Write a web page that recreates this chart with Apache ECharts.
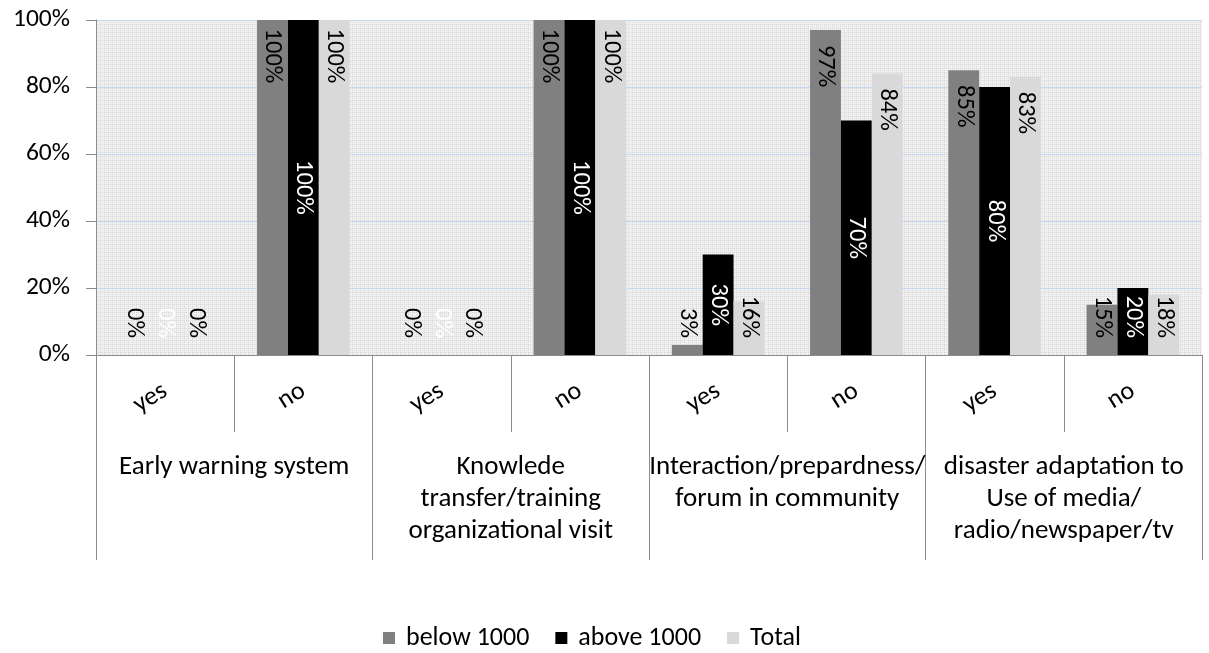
<!DOCTYPE html>
<html>
<head>
<meta charset="utf-8">
<script src="https://cdn.jsdelivr.net/npm/echarts@6/dist/echarts.min.js"></script>
<style>
  html, body { margin: 0; padding: 0; background: #fff; }
  #chart { width: 1209px; height: 653px; }
</style>
</head>
<body>
<div id="chart"></div>
<script>
// data
const categories = ['yes', 'no', 'yes', 'no', 'yes', 'no', 'yes', 'no'];
const groups = [
  'Early warning system',
  'Knowlede\ntransfer/training\norganizational visit',
  'Interaction/prepardness/\nforum in community',
  'disaster adaptation to\nUse of media/\nradio/newspaper/tv'
];
const seriesNames = ['below 1000', 'above 1000', 'Total'];
const below1000 = [0, 1, 0, 1, 0.03, 0.97, 0.85, 0.15];
const above1000 = [0, 1, 0, 1, 0.30, 0.70, 0.80, 0.20];
const total = [0, 1, 0, 1, 0.16, 0.84, 0.83, 0.18];
const yTicks = [0, 0.2, 0.4, 0.6, 0.8, 1];

const FONT = 'Carlito, Calibri, Lato, sans-serif';
const AXIS_GREY = '#8c8c8c';

// dotted background like the excel pattern fill
const pat = document.createElement('canvas');
pat.width = 4; pat.height = 4;
const pctx = pat.getContext('2d');
pctx.fillStyle = '#efefef';
pctx.fillRect(0, 0, 4, 4);
pctx.fillStyle = '#d6d6d6';
pctx.fillRect(0, 0, 1, 1);
pctx.fillRect(2, 0, 1, 1);
pctx.fillRect(0, 2, 1, 1);

// excel puts the label at the base when the bar is too short
function makeData(values, centred) {
  return values.map(v => {
    let label;
    if (v < 0.24) {
      label = { position: 'insideBottom', distance: 17, align: 'right' };
    } else if (centred) {
      label = { position: 'inside', align: 'center' };
    } else {
      label = { position: 'insideTop', distance: 36, align: 'center' };
    }
    return { value: v, label: label };
  });
}

function barSeries(name, values, color, labelColor, centred) {
  return {
    name: name,
    type: 'bar',
    barGap: '0%',
    barCategoryGap: '33%',
    itemStyle: { color: color },
    label: {
      show: true,
      rotate: -90,
      verticalAlign: 'middle',
      color: labelColor,
      fontFamily: FONT,
      fontSize: 24.5,
      formatter: p => Math.round(p.value * 100) + '%'
    },
    data: makeData(values, centred)
  };
}

const chart = echarts.init(document.getElementById('chart'));
chart.setOption({
  animation: false,
  textStyle: { fontFamily: FONT },
  grid: {
    left: 96, right: 7, top: 20, bottom: 298,
    show: true,
    borderWidth: 0,
    backgroundColor: { image: pat, repeat: 'repeat' }
  },
  legend: {
    top: 620,
    left: 378,
    itemWidth: 12,
    itemHeight: 12,
    itemGap: 26,
    icon: 'rect',
    textStyle: { fontFamily: FONT, fontSize: 26, color: '#000', padding: [0, 0, 0, 6] },
    data: seriesNames
  },
  xAxis: [
    {
      type: 'category',
      data: categories,
      axisLine: { show: true, lineStyle: { color: AXIS_GREY, width: 1 } },
      axisTick: { show: true, interval: 0, length: 77, lineStyle: { color: AXIS_GREY } },
      axisLabel: { interval: 0, rotate: 32, margin: 34, color: '#000', fontFamily: FONT, fontSize: 26 }
    },
    {
      type: 'category',
      data: groups,
      position: 'bottom',
      axisLine: { show: false },
      axisTick: { show: true, interval: 0, length: 205, lineStyle: { color: AXIS_GREY } },
      axisLabel: {
        interval: 0, margin: 96, color: '#000', fontFamily: FONT, fontSize: 27,
        lineHeight: 32, align: 'center'
      }
    }
  ],
  yAxis: {
    type: 'value',
    min: 0,
    max: 1,
    interval: 0.2,
    axisLine: { show: true, lineStyle: { color: AXIS_GREY } },
    axisTick: { show: true, length: 10, lineStyle: { color: AXIS_GREY } },
    axisLabel: {
      margin: 26, color: '#000', fontFamily: FONT, fontSize: 25.5,
      formatter: v => yTicks.includes(Math.round(v * 10) / 10) ? Math.round(v * 100) + '%' : ''
    },
    splitLine: { show: true, lineStyle: { color: '#c6d9f0', width: 1 } }
  },
  series: [
    barSeries(seriesNames[0], below1000, '#808080', '#000', false),
    barSeries(seriesNames[1], above1000, '#000000', '#fff', true),
    barSeries(seriesNames[2], total, '#d9d9d9', '#000', false)
  ]
});
</script>
</body>
</html>
